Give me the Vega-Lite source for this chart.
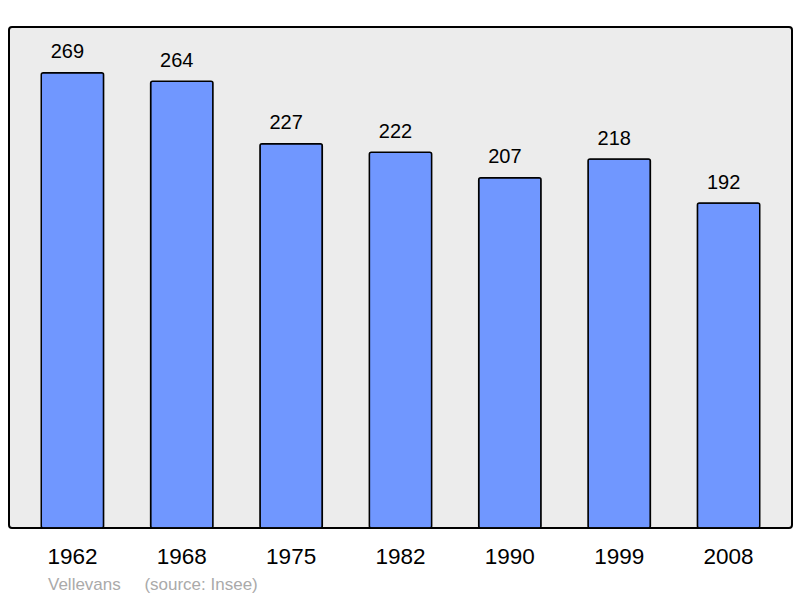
{
  "$schema": "https://vega.github.io/schema/vega-lite/v6.json",
  "width": 783,
  "height": 501,
  "autosize": {"type": "none"},
  "padding": {"left": 9, "top": 27, "right": 8, "bottom": 70},
  "background": "#ffffff",
  "config": {
    "view": {"stroke": "#000000", "strokeWidth": 2, "fill": "#ececec", "cornerRadius": 3},
    "font": "Liberation Sans"
  },
  "title": {
    "text": "Vellevans\u00a0\u00a0\u00a0\u00a0\u00a0(source: Insee)",
    "orient": "bottom",
    "anchor": "start",
    "dx": 39,
    "offset": 22,
    "fontSize": 17,
    "fontWeight": "normal",
    "color": "#aaaaaa",
    "font": "Liberation Sans",
    "baseline": "alphabetic"
  },
  "data": {
    "values": [
      {"year": "1962", "pop": 269},
      {"year": "1968", "pop": 264},
      {"year": "1975", "pop": 227},
      {"year": "1982", "pop": 222},
      {"year": "1990", "pop": 207},
      {"year": "1999", "pop": 218},
      {"year": "2008", "pop": 192}
    ]
  },
  "encoding": {
    "x": {
      "field": "year",
      "type": "nominal",
      "sort": null,
      "scale": {"paddingInner": 0.43, "paddingOuter": 0.295},
      "axis": {
        "title": null,
        "labelAngle": 0,
        "ticks": false,
        "domain": false,
        "labelFontSize": 22.5,
        "labelColor": "#000000",
        "labelFont": "Liberation Sans",
        "labelBaseline": "alphabetic",
        "labelPadding": 35
      }
    },
    "y": {
      "field": "pop",
      "type": "quantitative",
      "scale": {"domain": [0, 296], "nice": false},
      "axis": null
    }
  },
  "layer": [
    {
      "mark": {"type": "bar", "fill": "#7097ff", "stroke": "#000000", "strokeWidth": 1.5, "cornerRadius": 2}
    },
    {
      "mark": {"type": "text", "fontSize": 20, "dx": -5, "dy": -14.5, "baseline": "alphabetic", "color": "#000000", "font": "Liberation Sans"},
      "encoding": {"text": {"field": "pop", "type": "quantitative"}}
    }
  ]
}
